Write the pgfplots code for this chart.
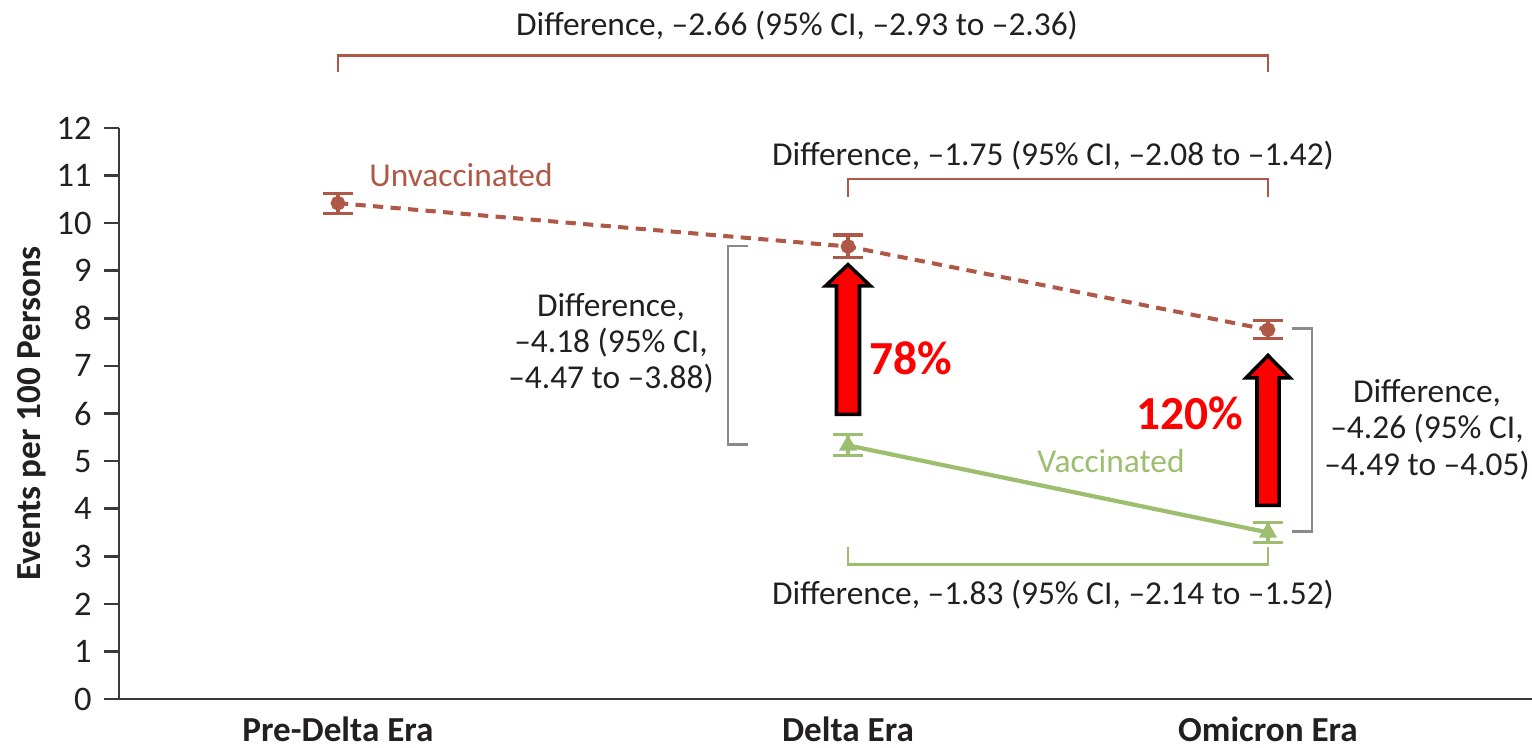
\documentclass[border=0pt]{standalone}
\usepackage{pgfplots}
\pgfplotsset{compat=1.18}
\usepackage{fontspec}
\setmainfont{Carlito}
\definecolor{unvac}{HTML}{B05848}
\definecolor{vac}{HTML}{9CBE6E}
\definecolor{brk}{HTML}{8A8A8A}
\definecolor{axc}{HTML}{3A3A3A}
\definecolor{txt}{HTML}{231F20}
\newcommand{\fs}{\fontsize{9.5}{10.3}\selectfont}
\begin{document}
\begin{tikzpicture}
\useasboundingbox (0,0) rectangle (15.32,7.47);
\begin{axis}[
  at={(1.19cm,0.48cm)}, anchor=south west,
  scale only axis, width=14.13cm, height=5.71cm,
  xmin=119, xmax=1532, ymin=0, ymax=12,
  axis lines=left,
  axis line style={axc, line width=0.75pt, -},
  ytick={0,1,...,12},
  xtick={338,848,1268},
  xticklabels={Pre-Delta Era, Delta Era, Omicron Era},
  major x tick style={draw=none},
  major y tick style={axc, line width=0.75pt},
  tick align=outside, major tick length=0.15cm,
  /pgf/number format/assume math mode=true,
  yticklabel style={font=\fontsize{9.8}{11}\selectfont, text=txt},
  xticklabel style={font=\bfseries\fontsize{10}{12}\selectfont, text=txt, yshift=2.6pt},
  ylabel={\bfseries Events per 100 Persons},
  ylabel style={font=\fontsize{10}{12}\selectfont, text=txt, at={(axis description cs:-0.0616,0.5)}, anchor=center},
  clip=false,
]
% unvaccinated
\addplot[unvac, line width=1.15pt, dash pattern=on 2.9pt off 2.1pt,
  mark=*, mark size=1.5pt, mark options={solid},
  error bars/.cd, y dir=both, y explicit, error mark=|,
  error bar style={solid, line width=0.9pt},
  error mark options={unvac, solid, mark size=4.3pt, line width=0.9pt}]
  coordinates {(338,10.42) +- (0,0.21) (848,9.51) +- (0,0.24) (1268,7.76) +- (0,0.19)};
% vaccinated
\addplot[vac, line width=1.2pt,
  mark=triangle*, mark size=1.8pt, mark options={solid},
  error bars/.cd, y dir=both, y explicit, error mark=|,
  error bar style={solid, line width=0.9pt},
  error mark options={vac, solid, mark size=4.3pt, line width=0.9pt}]
  coordinates {(848,5.33) +- (0,0.22) (1268,3.50) +- (0,0.21)};

% difference brackets
\draw[unvac, line width=0.8pt] (338,13.17) -- (338,13.53) -- (1268,13.53) -- (1268,13.17);
\node[txt, font=\fs] at (797,14.16) {Difference, –2.66 (95\% CI, –2.93 to –2.36)};
\draw[unvac, line width=0.8pt] (848,10.55) -- (848,10.93) -- (1268,10.93) -- (1268,10.55);
\node[txt, font=\fs] at (1053,11.43) {Difference, –1.75 (95\% CI, –2.08 to –1.42)};
\draw[vac, line width=0.8pt] (848,3.19) -- (848,2.83) -- (1268,2.83) -- (1268,3.19);
\node[txt, font=\fs] at (1053,2.20) {Difference, –1.83 (95\% CI, –2.14 to –1.52)};
\draw[brk, line width=0.8pt] (748,9.52) -- (728,9.52) -- (728,5.35) -- (748,5.35);
\node[txt, font=\fs, align=center] at (611,7.47) {Difference,\\–4.18 (95\% CI,\\–4.47 to –3.88)};
\draw[brk, line width=0.8pt] (1292,7.78) -- (1312,7.78) -- (1312,3.52) -- (1292,3.52);
\node[txt, font=\fs, align=center] at (1427,5.66) {Difference,\\–4.26 (95\% CI,\\–4.49 to –4.05)};

% series labels
\node[unvac, font=\fs] at (461,11.01) {Unvaccinated};
\node[vac, font=\fs] at (1111,5.01) {Vaccinated};

% red arrows
\draw[black, line width=1pt, fill=red] (836.5,5.98) -- (859.5,5.98) -- (859.5,8.68) -- (870.5,8.68) -- (848,9.13) -- (825.5,8.68) -- (836.5,8.68) -- cycle;
\draw[black, line width=1pt, fill=red] (1257,4.07) -- (1279,4.07) -- (1279,6.75) -- (1290,6.75) -- (1268,7.22) -- (1246,6.75) -- (1257,6.75) -- cycle;
\node[red, font=\bfseries\fontsize{13.5}{15}\selectfont] at (911,7.17) {78\%};
\node[red, font=\bfseries\fontsize{13.5}{15}\selectfont] at (1190,6.0) {120\%};
\end{axis}
\end{tikzpicture}
\end{document}
